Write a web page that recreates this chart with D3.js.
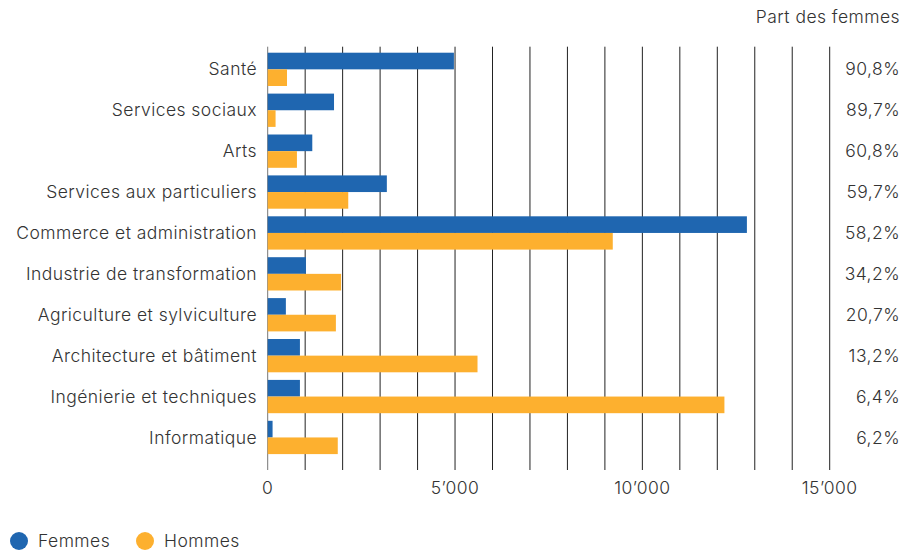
<!DOCTYPE html>
<html>
<head>
<meta charset="utf-8">
<script src="https://cdn.jsdelivr.net/npm/d3@7"></script>
<style>
  html, body { margin: 0; padding: 0; background: #fff; }
  svg { display: block; font-family: Inter, "Noto Sans", sans-serif; font-weight: 300; letter-spacing: 0.45px; }
</style>
</head>
<body>
<div id="chart"></div>
<script>
// data
const categories = ['Santé', 'Services sociaux', 'Arts', 'Services aux particuliers',
  'Commerce et administration', 'Industrie de transformation', 'Agriculture et sylviculture',
  'Architecture et bâtiment', 'Ingénierie et techniques', 'Informatique'];
const femmes = [4970, 1770, 1190, 3180, 12790, 1020, 485, 860, 860, 130];
const hommes = [515, 210, 780, 2150, 9210, 1960, 1820, 5600, 12190, 1870];
const partFemmes = [90.8, 89.7, 60.8, 59.7, 58.2, 34.2, 20.7, 13.2, 6.4, 6.2];
const tickValues = [0, 5000, 10000, 15000];
const series = ['Femmes', 'Hommes'];

const W = 918, H = 554;
const colors = { Femmes: '#1f66b0', Hommes: '#fdb02f' };
const textColor = '#333';
const fs = 17.5;

const loc = d3.formatLocale({ decimal: ',', thousands: '\u2019', grouping: [3], currency: ['', ''] });
const fmtTick = loc.format(',d');
const fmtPct = loc.format('.1f');

const svg = d3.select('#chart').append('svg').attr('width', W).attr('height', H);

const x = d3.scaleLinear().domain([0, 15000]).range([267.7, 829.7]);
const y = d3.scaleBand().domain(categories).range([48.9, 457.9])
  .paddingInner(0.186).paddingOuter(0.093);
const ySub = d3.scaleBand().domain(series).range([0, y.bandwidth()]);

// gridlines every 1000
const grid = svg.append('g');
grid.selectAll('line').data(d3.range(0, 15001, 1000)).join('line')
  .attr('x1', d => x(d)).attr('x2', d => x(d))
  .attr('y1', 46.7).attr('y2', 470)
  .attr('stroke', d => d === 0 ? '#777' : '#222').attr('stroke-width', 1);

// bars
const rows = categories.map((c, i) => ({ c, Femmes: femmes[i], Hommes: hommes[i] }));
const groups = svg.append('g').selectAll('g').data(rows).join('g')
  .attr('transform', d => `translate(0,${y(d.c)})`);
groups.selectAll('rect').data(d => series.map(s => ({ s, v: d[s] }))).join('rect')
  .attr('x', x(0)).attr('y', d => ySub(d.s))
  .attr('width', d => x(d.v) - x(0)).attr('height', ySub.bandwidth())
  .attr('fill', d => colors[d.s]);

// category labels
svg.append('g').selectAll('text').data(categories).join('text')
  .attr('x', 257).attr('y', d => y(d) + y.bandwidth() / 2)
  .attr('dy', '0.35em').attr('text-anchor', 'end')
  .attr('font-size', fs).attr('fill', textColor).text(d => d);

// x tick labels
svg.append('g').selectAll('text').data(tickValues).join('text')
  .attr('x', d => x(d)).attr('y', 488).attr('dy', '0.35em')
  .attr('text-anchor', 'middle').attr('font-size', fs).attr('fill', textColor)
  .text(d => fmtTick(d));

// share of women column
svg.append('text').attr('x', 900).attr('y', 17).attr('dy', '0.35em')
  .attr('text-anchor', 'end').attr('font-size', fs).attr('fill', textColor)
  .text('Part des femmes');
svg.append('g').selectAll('text').data(partFemmes).join('text')
  .attr('x', 900).attr('y', (d, i) => y(categories[i]) + y.bandwidth() / 2)
  .attr('dy', '0.35em').attr('text-anchor', 'end')
  .attr('font-size', fs).attr('fill', textColor).text(d => fmtPct(d) + '%');

// legend
const legend = svg.append('g').selectAll('g').data(series).join('g')
  .attr('transform', (d, i) => `translate(${[19, 145][i]},541)`);
legend.append('circle').attr('r', 9).attr('fill', d => colors[d]);
legend.append('text').attr('x', 19).attr('dy', '0.35em')
  .attr('font-size', fs).attr('fill', textColor).text(d => d);
</script>
</body>
</html>
